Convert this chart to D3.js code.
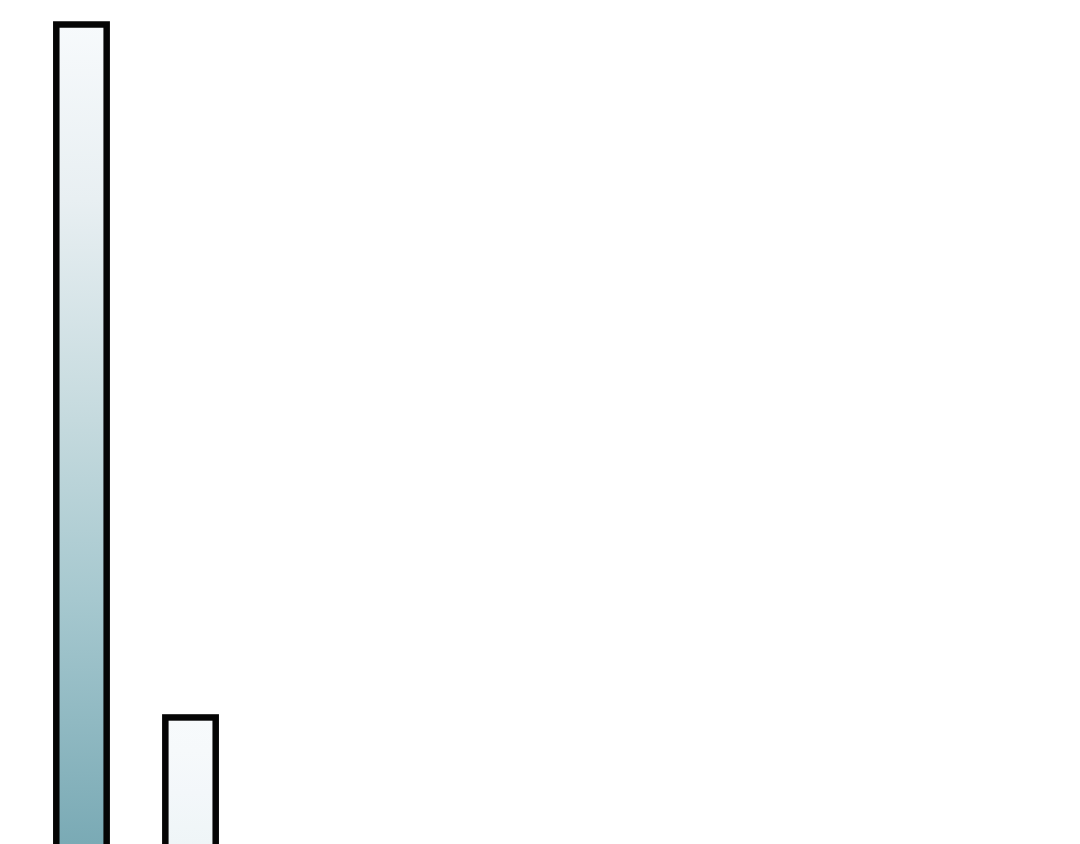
<!DOCTYPE html>
<html>
<head>
  <meta charset="utf-8"/>
  <title>Bars</title>
  <style>
    html, body { margin: 0; padding: 0; background: #fff; overflow: hidden; }
    svg { display: block; }
  </style>
</head>
<body>
  <div id="chart"></div>

  <script src="https://d3js.org/d3.v7.min.js"></script>
  <script>

  // data (no axes shown, values relative)
  var categories = ["A", "B"];
  var values = [100, 19];

  // gradient shape along a full-strength bar, top to bottom
  var stopOffsets = [0, 0.205, 0.462, 0.672, 0.958, 1];
  var stopColors = ["#f7fafc", "#e8eff2", "#c5dade", "#a6c8cf", "#7aaab5", "#75a7b3"];

  var width = 1080, height = 844;
  var baseline = 880;   // bars run past the bottom edge of the window

  var svg = d3.select("#chart")
    .append("svg")
    .attr("width", width)
    .attr("height", height);

  var x = d3.scaleBand()
    .domain(categories)
    .range([56.3, 215.7])
    .paddingInner(0.538)
    .paddingOuter(0);

  var y = d3.scaleLinear()
    .domain([0, d3.max(values)])
    .range([baseline, 24.5]);

  // how strong the colour gets at the bottom of each bar
  var strength = d3.scalePow()
    .exponent(1.5)
    .domain([0, d3.max(values)])
    .range([0, 1]);

  var defs = svg.append("defs");

  categories.forEach(function (c, i){
    var t = strength(values[i]);
    var grad = defs.append("linearGradient")
      .attr("id", "grad" + i)
      .attr("x1", 0).attr("y1", 0)
      .attr("x2", 0).attr("y2", 1);
    stopOffsets.forEach(function (o, j){
      grad.append("stop")
        .attr("offset", o)
        .attr("stop-color", d3.interpolateRgb(stopColors[0], stopColors[j])(t));
    });
  });

  svg.selectAll("rect.bar")
    .data(values)
    .enter()
    .append("rect")
    .attr("class", "bar")
    .attr("x", function (d, i){ return x(categories[i]); })
    .attr("y", function (d){ return y(d); })
    .attr("width", x.bandwidth())
    .attr("height", function (d){ return y(0) - y(d); })
    .attr("fill", function (d, i){ return "url(#grad" + i + ")"; })
    .attr("stroke", "#050505")
    .attr("stroke-width", 6.5);

  </script>
</body>
</html>
